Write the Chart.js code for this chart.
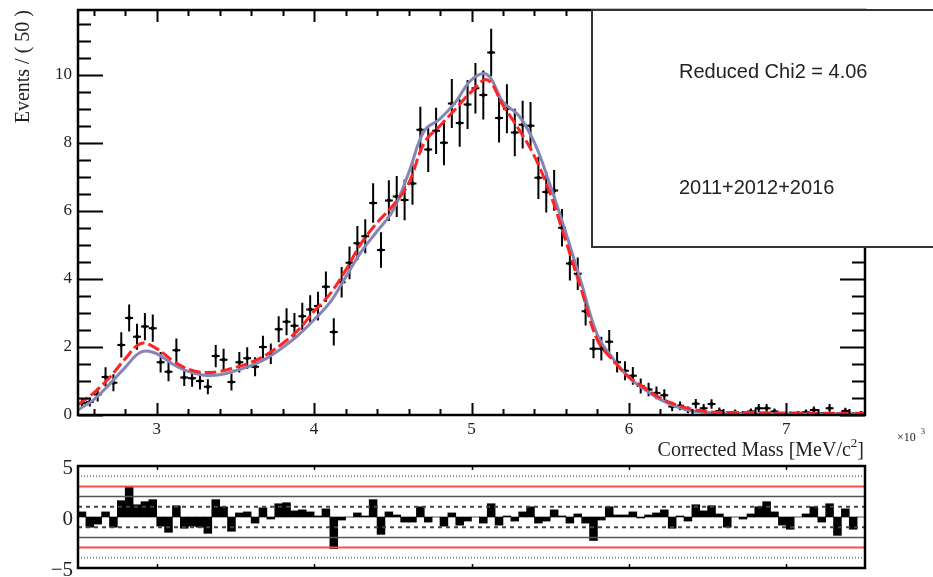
<!DOCTYPE html>
<html>
<head>
<meta charset="utf-8">
<script src="https://cdn.jsdelivr.net/npm/chart.js@4.4.1/dist/chart.umd.min.js"></script>
<style>
  html, body { margin: 0; padding: 0; background: #fff; }
  #wrap { position: relative; width: 933px; height: 577px; overflow: hidden; }
  #wrap canvas { position: absolute; left: 0; top: 0; }
</style>
</head>
<body>
<div id="wrap">
  <canvas id="massChart" width="933" height="577"></canvas>
  <canvas id="pullChart" width="933" height="577"></canvas>
</div>
<script>
// corrected mass histogram, 50 MeV bins from 2500 to 7500
const binCenters = [
  2525, 2575, 2625, 2675, 2725, 2775, 2825, 2875, 2925, 2975,
  3025, 3075, 3125, 3175, 3225, 3275, 3325, 3375, 3425, 3475,
  3525, 3575, 3625, 3675, 3725, 3775, 3825, 3875, 3925, 3975,
  4025, 4075, 4125, 4175, 4225, 4275, 4325, 4375, 4425, 4475,
  4525, 4575, 4625, 4675, 4725, 4775, 4825, 4875, 4925, 4975,
  5025, 5075, 5125, 5175, 5225, 5275, 5325, 5375, 5425, 5475,
  5525, 5575, 5625, 5675, 5725, 5775, 5825, 5875, 5925, 5975,
  6025, 6075, 6125, 6175, 6225, 6275, 6325, 6375, 6425, 6475,
  6525, 6575, 6625, 6675, 6725, 6775, 6825, 6875, 6925, 6975,
  7025, 7075, 7125, 7175, 7225, 7275, 7325, 7375, 7425, 7475
];
const binHalfWidth = 25;

const eventsData = [
  0.35, 0.38, 0.60, 1.12, 0.95, 2.06, 2.85, 2.30, 2.60, 2.55,
  1.55, 1.27, 1.90, 1.10, 1.08, 1.00, 0.83, 1.73, 1.62, 0.97,
  1.55, 1.67, 1.42, 2.00, 1.80, 2.52, 2.74, 2.62, 2.90, 3.10,
  3.20, 3.77, 2.44, 3.90, 4.47, 5.05, 5.25, 6.23, 4.85, 6.30,
  6.42, 6.32, 6.80, 8.38, 7.80, 8.35, 8.00, 9.15, 8.58, 9.12,
  9.60, 9.40, 10.65, 8.73, 9.00, 8.30, 8.53, 8.50, 6.97, 6.55,
  6.60, 5.50, 4.45, 4.15, 3.05, 1.95, 1.95, 2.15, 1.55, 1.30,
  1.15, 0.85, 0.75, 0.65, 0.58, 0.25, 0.27, 0.15, 0.33, 0.20,
  0.32, 0.12, 0.03, 0.08, 0.05, 0.10, 0.20, 0.20, 0.10, 0.02,
  0.03, 0.05, 0.08, 0.15, 0.03, 0.20, 0.02, 0.12, 0.02, 0.05
];
const eventsError = [
  0.15, 0.13, 0.20, 0.28, 0.25, 0.37, 0.40, 0.38, 0.40, 0.40,
  0.30, 0.28, 0.35, 0.25, 0.25, 0.25, 0.22, 0.33, 0.33, 0.25,
  0.30, 0.32, 0.28, 0.33, 0.30, 0.38, 0.40, 0.38, 0.40, 0.42,
  0.42, 0.45, 0.40, 0.45, 0.48, 0.50, 0.50, 0.58, 0.52, 0.60,
  0.60, 0.60, 0.62, 0.68, 0.66, 0.68, 0.66, 0.72, 0.70, 0.72,
  0.74, 0.72, 0.70, 0.72, 0.72, 0.70, 0.70, 0.70, 0.62, 0.60,
  0.60, 0.55, 0.50, 0.48, 0.42, 0.28, 0.35, 0.35, 0.30, 0.28,
  0.26, 0.22, 0.20, 0.19, 0.18, 0.14, 0.13, 0.10, 0.14, 0.12,
  0.14, 0.10, 0.08, 0.08, 0.07, 0.09, 0.12, 0.12, 0.09, 0.06,
  0.07, 0.07, 0.08, 0.10, 0.06, 0.12, 0.06, 0.09, 0.06, 0.07
];

// fit curves sampled every 100 MeV
const curveMass = [
  2500, 2600, 2700, 2800, 2900, 3000, 3100, 3200, 3300, 3400,
  3500, 3600, 3700, 3800, 3900, 4000, 4100, 4200, 4300, 4400,
  4500, 4600, 4700, 4800, 4900, 5000, 5100, 5200, 5300, 5400,
  5500, 5600, 5700, 5800, 5900, 6000, 6100, 6200, 6300, 6400,
  6500, 6600, 6700, 6800, 6900, 7000, 7100, 7200, 7300, 7400, 7500
];
const fitRed = [
  0.30, 0.65, 1.10, 1.65, 2.10, 1.95, 1.60, 1.35, 1.25, 1.28,
  1.40, 1.55, 1.78, 2.10, 2.50, 3.05, 3.55, 4.25, 5.05, 5.65,
  6.15, 6.80, 8.00, 8.50, 9.00, 9.50, 9.85, 9.10, 8.40, 7.60,
  6.50, 5.10, 3.65, 2.20, 1.60, 1.12, 0.80, 0.50, 0.30, 0.17,
  0.10, 0.08, 0.07, 0.07, 0.06, 0.06, 0.06, 0.05, 0.05, 0.05, 0.05
];
const fitBlue = [
  0.15, 0.45, 0.90, 1.40, 1.85, 1.80, 1.50, 1.28, 1.17, 1.18,
  1.30, 1.45, 1.67, 1.98, 2.35, 2.80, 3.30, 4.05, 4.80, 5.40,
  6.00, 7.10, 8.35, 8.70, 9.20, 9.85, 10.00, 9.20, 8.80, 8.00,
  6.75, 5.35, 3.85, 2.35, 1.65, 1.10, 0.75, 0.45, 0.25, 0.12,
  0.07, 0.05, 0.04, 0.04, 0.03, 0.03, 0.03, 0.03, 0.03, 0.03, 0.03
];

// residual pulls per bin
const pullValues = [
  0.5, -1.0, -0.7, 0.5, -1.0, 1.6, 2.9, 1.2, 1.5, 1.7,
  -0.9, -1.5, 1.1, -1.1, -0.9, -1.0, -1.6, 1.7, 1.0, -1.4,
  0.4, 0.5, -0.6, 0.9, -0.2, 1.3, 1.4, 0.6, 0.7, 0.5,
  0.1, 0.8, -3.1, -0.3, 0.0, 0.4, 0.1, 1.7, -1.7, 0.5,
  0.2, -0.5, -0.5, 1.0, -0.5, 0.0, -0.9, 0.4, -0.8, -0.4,
  0.0, -0.6, 1.3, -0.8, 0.1, -0.4, 0.5, 1.0, -0.6, -0.4,
  0.7, 0.1, -0.6, 0.3, -0.6, -2.3, -0.3, 1.0, 0.2, 0.2,
  0.5, -0.1, 0.2, 0.4, 0.7, -1.1, 0.1, -0.4, 1.2, 0.6,
  1.1, 0.3, -1.0, 0.0, -0.2, 0.3, 1.0, 1.5, 0.5, -0.8,
  -1.2, 0.0, 0.3, 1.0, -0.5, 1.3, -1.8, 0.8, -1.2, 0.0
];

const massTicks = [3000, 4000, 5000, 6000, 7000];
const massTickLabels = ['3', '4', '5', '6', '7'];
const eventTicks = [0, 2, 4, 6, 8, 10];
const eventTickLabels = ['0', '2', '4', '6', '8', '10'];
const pullTicks = [5, 0, -5];
const pullTickLabels = ['5', '0', '\u22125'];
const pullLevels = [4, 3, 2, 1, -1, -2, -3, -4];

const infoLines = ['Reduced Chi2 = 4.06', '2011+2012+2016'];

const SERIF = '"Liberation Serif", "DejaVu Serif", serif';
const SANS = '"Liberation Sans", Arial, sans-serif';

// error bars (x = bin width, y = event error)
const errorBars = {
  id: 'errorBars',
  beforeDatasetsDraw(chart) {
    const { ctx, chartArea: a, scales: { x, y } } = chart;
    ctx.save();
    ctx.beginPath();
    ctx.rect(a.left, a.top, a.width, a.height);
    ctx.clip();
    ctx.strokeStyle = '#000';
    ctx.lineWidth = 2;
    ctx.beginPath();
    binCenters.forEach((m, i) => {
      const px = x.getPixelForValue(m);
      const py = y.getPixelForValue(eventsData[i]);
      ctx.moveTo(px, y.getPixelForValue(eventsData[i] - eventsError[i]));
      ctx.lineTo(px, y.getPixelForValue(eventsData[i] + eventsError[i]));
      ctx.moveTo(x.getPixelForValue(m - binHalfWidth), py);
      ctx.lineTo(x.getPixelForValue(m + binHalfWidth), py);
    });
    ctx.stroke();
    ctx.restore();
  }
};

function textWithSup(ctx, parts, xRight, yBase) {
  // parts: [text, isSup]
  let total = 0;
  const widths = parts.map(([t, sup]) => {
    ctx.font = sup ? '13px ' + SERIF : '20px ' + SERIF;
    const w = ctx.measureText(t).width;
    total += w;
    return w;
  });
  let cx = xRight - total;
  parts.forEach(([t, sup], i) => {
    ctx.font = sup ? '13px ' + SERIF : '20px ' + SERIF;
    ctx.fillText(t, cx, sup ? yBase - 9 : yBase);
    cx += widths[i];
  });
}

// ROOT-style frame: inward ticks on all four sides, labels, titles, info box
const massFrame = {
  id: 'massFrame',
  afterDraw(chart) {
    const { ctx, chartArea: a, scales: { x, y } } = chart;
    ctx.save();
    ctx.strokeStyle = '#000';
    ctx.lineWidth = 2;
    ctx.beginPath();
    for (let k = 0; k * 0.5 <= y.max; k++) {
      const py = Math.round(y.getPixelForValue(k * 0.5)) + 0.5;
      const len = k % 4 === 0 ? 25 : 13;
      ctx.moveTo(a.left, py); ctx.lineTo(a.left + len, py);
      ctx.moveTo(a.right, py); ctx.lineTo(a.right - len, py);
    }
    for (let m = 2600; m < 7500; m += 200) {
      const px = Math.round(x.getPixelForValue(m)) + 0.5;
      const len = m % 1000 === 0 ? 12 : 6;
      ctx.moveTo(px, a.bottom); ctx.lineTo(px, a.bottom - len);
      ctx.moveTo(px, a.top); ctx.lineTo(px, a.top + len);
    }
    ctx.stroke();
    ctx.lineWidth = 2.5;
    ctx.strokeRect(a.left, a.top, a.width, a.height);

    ctx.fillStyle = '#222';
    ctx.font = '17px ' + SERIF;
    ctx.textAlign = 'right';
    ctx.textBaseline = 'middle';
    eventTicks.forEach((v, i) => {
      ctx.fillText(eventTickLabels[i], a.left - 6, y.getPixelForValue(v));
    });
    ctx.textAlign = 'center';
    ctx.textBaseline = 'top';
    massTicks.forEach((v, i) => {
      ctx.fillText(massTickLabels[i], x.getPixelForValue(v), a.bottom + 6);
    });

    // axis titles
    ctx.textAlign = 'left';
    ctx.textBaseline = 'alphabetic';
    textWithSup(ctx, [['Corrected Mass [MeV/c', false], ['2', true], [']', false]], a.right - 1, 456);
    ctx.font = '12px ' + SERIF;
    ctx.fillText('\u00d710', 897, 441);
    ctx.font = '8px ' + SERIF;
    ctx.fillText('3', 921, 434);

    ctx.save();
    ctx.translate(29, a.top);
    ctx.rotate(-Math.PI / 2);
    ctx.font = '20px ' + SERIF;
    ctx.textAlign = 'right';
    ctx.fillText('Events / ( 50 )', 0, 0);
    ctx.restore();

    // info box
    ctx.fillStyle = '#fff';
    ctx.fillRect(592, a.top, 400, 247 - a.top);
    ctx.strokeStyle = '#333';
    ctx.lineWidth = 2;
    ctx.strokeRect(592, a.top, 400, 247 - a.top);
    ctx.fillStyle = '#222';
    ctx.font = '20px ' + SANS;
    ctx.textAlign = 'left';
    ctx.textBaseline = 'middle';
    ctx.fillText(infoLines[0], 679, 72);
    ctx.fillText(infoLines[1], 679, 188);
    ctx.restore();
  }
};

new Chart(document.getElementById('massChart'), {
  type: 'scatter',
  data: {
    datasets: [
      {
        label: 'data',
        data: binCenters.map((m, i) => ({ x: m, y: eventsData[i] })),
        pointRadius: 2,
        pointBackgroundColor: '#000',
        pointBorderWidth: 0,
        order: 3
      },
      {
        label: 'fit',
        type: 'line',
        data: curveMass.map((m, i) => ({ x: m, y: fitBlue[i] })),
        borderColor: '#8686b6',
        borderWidth: 3,
        pointRadius: 0,
        tension: 0.4,
        order: 2
      },
      {
        label: 'fit2',
        type: 'line',
        data: curveMass.map((m, i) => ({ x: m, y: fitRed[i] })),
        borderColor: '#ff2424',
        borderWidth: 3,
        borderDash: [12, 4],
        pointRadius: 0,
        tension: 0.4,
        order: 1
      }
    ]
  },
  options: {
    responsive: false,
    animation: false,
    events: [],
    layout: { padding: { left: 78, top: 10, right: 68, bottom: 162 } },
    scales: {
      x: { type: 'linear', min: 2500, max: 7500, display: false },
      y: { type: 'linear', min: 0, max: 11.9, display: false }
    },
    plugins: { legend: { display: false }, tooltip: { enabled: false } }
  },
  plugins: [errorBars, massFrame]
});

// pull panel
const levelStyle = (v) => {
  const a = Math.abs(v);
  if (a === 4) return { borderColor: '#8a8a8a', borderWidth: 2, borderDash: [1, 2] };
  if (a === 3) return { borderColor: '#ff4a4a', borderWidth: 2, borderDash: [] };
  if (a === 2) return { borderColor: '#555', borderWidth: 1.5, borderDash: [] };
  return { borderColor: '#444', borderWidth: 2, borderDash: [4, 4] };
};

const pullFrame = {
  id: 'pullFrame',
  afterDraw(chart) {
    const { ctx, chartArea: a, scales: { x, y } } = chart;
    ctx.save();
    ctx.strokeStyle = '#000';
    ctx.lineWidth = 1.5;
    ctx.beginPath();
    massTicks.forEach((m) => {
      const px = Math.round(x.getPixelForValue(m)) + 0.5;
      ctx.moveTo(px, a.bottom); ctx.lineTo(px, a.bottom - 4);
      ctx.moveTo(px, a.top); ctx.lineTo(px, a.top + 4);
    });
    ctx.stroke();
    ctx.lineWidth = 2.5;
    ctx.strokeRect(a.left, a.top, a.width, a.height);
    ctx.fillStyle = '#222';
    ctx.font = '21px ' + SERIF;
    ctx.textAlign = 'right';
    ctx.textBaseline = 'middle';
    pullTicks.forEach((v, i) => {
      ctx.fillText(pullTickLabels[i], a.left - 5, y.getPixelForValue(v) + 2);
    });
    ctx.restore();
  }
};

new Chart(document.getElementById('pullChart'), {
  type: 'bar',
  data: {
    datasets: [
      ...pullLevels.map((v) => Object.assign({
        type: 'line',
        data: [{ x: 2500, y: v }, { x: 7500, y: v }],
        pointRadius: 0,
        order: 1
      }, levelStyle(v))),
      {
        label: 'pull',
        data: binCenters.map((m, i) => ({ x: m, y: pullValues[i] })),
        backgroundColor: '#000',
        borderWidth: 0,
        barPercentage: 1,
        categoryPercentage: 1,
        order: 2
      }
    ]
  },
  options: {
    responsive: false,
    animation: false,
    events: [],
    layout: { padding: { left: 78, top: 466, right: 68, bottom: 9 } },
    scales: {
      x: { type: 'linear', min: 2500, max: 7500, display: false, offset: false },
      y: { type: 'linear', min: -5, max: 5, display: false }
    },
    plugins: { legend: { display: false }, tooltip: { enabled: false } }
  },
  plugins: [pullFrame]
});
</script>
</body>
</html>
